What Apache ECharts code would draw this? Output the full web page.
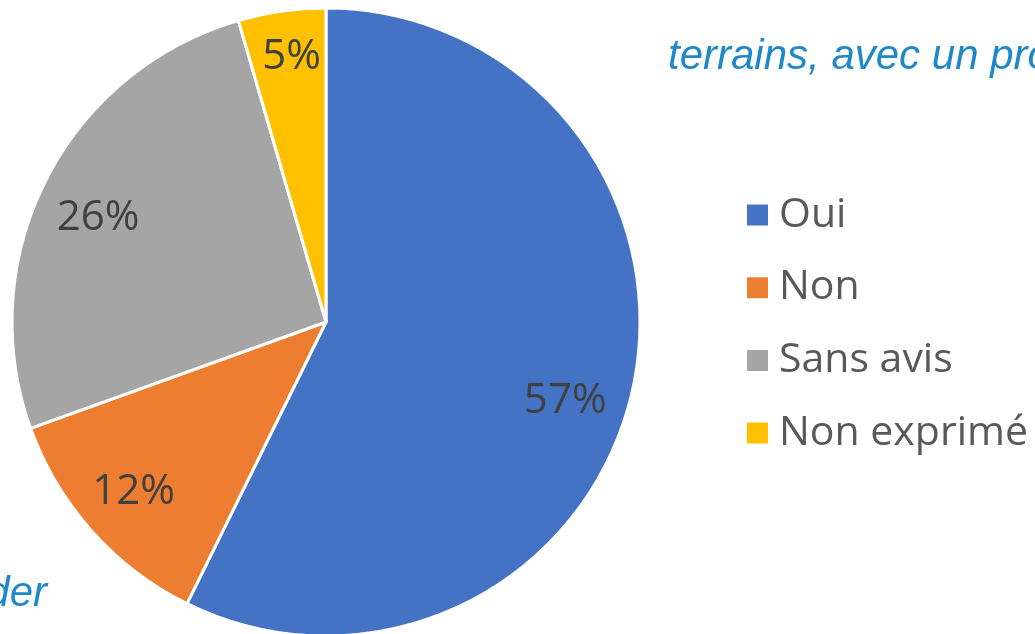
<!DOCTYPE html>
<html>
<head>
<meta charset="utf-8">
<script src="https://cdn.jsdelivr.net/npm/echarts@6/dist/echarts.min.js"></script>
<style>
  html, body { margin: 0; padding: 0; background: #fff; }
  #chart { width: 1035px; height: 634px; }
</style>
</head>
<body>
<div id="chart"></div>
<script>
// réponses
var categories = ['Oui', 'Non', 'Sans avis', 'Non exprimé'];
var values = [57.3, 12.2, 26.0, 4.5];
var colors = ['#4472C4', '#ED7D31', '#A5A5A5', '#FFC000'];

// petits décalages des étiquettes (placement "meilleur ajustement" d'Excel)
var labelShift = [[-12, 20], [0, -2], [2, 13], [2, -10]];

var chart = echarts.init(document.getElementById('chart'));

var pieData = categories.map(function (c, i) {
    return { name: c, value: values[i], itemStyle: { color: colors[i] } };
});

var option = {
    animation: false,
    legend: {
        orient: 'vertical',
        left: 740,
        top: 189,
        icon: 'rect',
        itemWidth: 23,
        itemHeight: 23,
        itemGap: 30.7,
        data: categories,
        textStyle: {
            fontFamily: 'Open Sans',
            fontSize: 41,
            lineHeight: 42,
            color: '#595959',
            padding: [0, 0, 0, 5]
        }
    },
    graphic: [
        {
            type: 'text',
            left: 668,
            top: 36,
            style: {
                text: 'terrains, avec un pro',
                font: 'italic 42px "Liberation Sans"',
                fill: '#1E88C8'
            }
        },
        {
            type: 'text',
            right: 988,
            top: 573,
            style: {
                text: 'der',
                font: 'italic 42px "Liberation Sans"',
                fill: '#1E88C8'
            }
        }
    ],
    series: [
        {
            name: 'Réponses',
            type: 'pie',
            center: [326, 322],
            radius: [0, 314],
            startAngle: 90,
            clockwise: true,
            label: { show: false },
            labelLine: { show: false },
            itemStyle: { borderColor: '#fff', borderWidth: 3 },
            emphasis: { disabled: true },
            data: pieData
        },
        {
            // anneau transparent pour placer les étiquettes
            name: 'Étiquettes',
            type: 'pie',
            center: [326, 322],
            radius: [196, 314],
            startAngle: 90,
            clockwise: true,
            silent: true,
            itemStyle: { color: 'rgba(0,0,0,0)', borderWidth: 0 },
            label: {
                show: true,
                position: 'inside',
                formatter: function (p) { return Math.round(p.value) + '%'; },
                fontFamily: 'Open Sans',
                fontSize: 42,
                color: '#404040'
            },
            labelLine: { show: false },
            emphasis: { disabled: true },
            data: categories.map(function (c, i) {
                return { name: c, value: values[i], label: { offset: labelShift[i] } };
            })
        }
    ]
};

chart.setOption(option);
</script>
</body>
</html>
